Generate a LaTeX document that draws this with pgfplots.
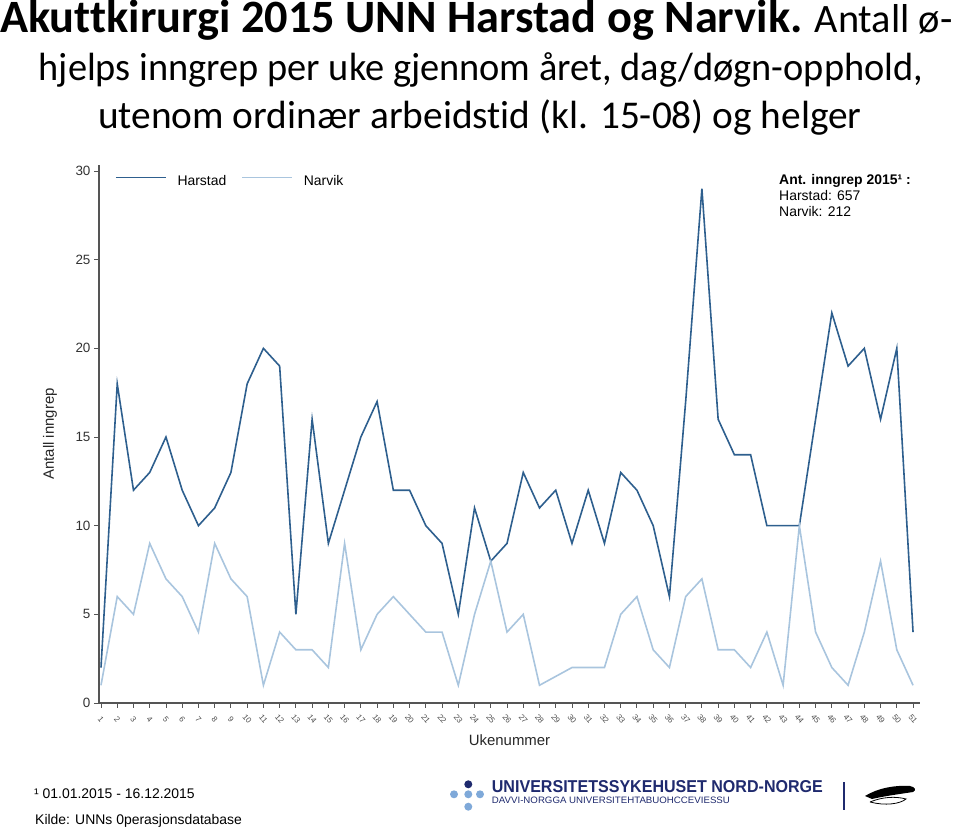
\documentclass[border=0pt]{standalone}
\usepackage{pgfplots}
\pgfplotsset{compat=1.18}
\usepackage{pgfplotstable}
\usepackage{fontspec}
\setmainfont{Liberation Sans}
\newfontfamily\titlefont[Ligatures=NoCommon]{Carlito}
\definecolor{harstad}{HTML}{2E5F8E}
\definecolor{narvik}{HTML}{A9C5DE}
\definecolor{axisgray}{HTML}{555555}
\definecolor{unnnavy}{HTML}{1F2A6E}
\definecolor{unnlight}{HTML}{7FA9D9}

\pgfplotstableread{
week harstad narvik
1 2 1
2 18 6
3 12 5
4 13 9
5 15 7
6 12 6
7 10 4
8 11 9
9 13 7
10 18 6
11 20 1
12 19 4
13 5 3
14 16 3
15 9 2
16 12 9
17 15 3
18 17 5
19 12 6
20 12 5
21 10 4
22 9 4
23 5 1
24 11 5
25 8 8
26 9 4
27 13 5
28 11 1
29 12 1.5
30 9 2
31 12 2
32 9 2
33 13 5
34 12 6
35 10 3
36 6 2
37 17 6
38 29 7
39 16 3
40 14 3
41 14 2
42 10 4
43 10 1
44 10 10
45 16 4
46 22 2
47 19 1
48 20 4
49 16 8
50 20 3
51 4 1
}\datatable

\begin{document}
\begin{tikzpicture}[x=1bp,y=1bp]
\path[use as bounding box] (0,0) rectangle (960,832);
% title
\node[anchor=base west, inner sep=0] at (0,799)
  {\titlefont\fontsize{46.5}{50}\selectfont\bfseries Akuttkirurgi 2015 UNN Harstad og Narvik.\mdseries\fontsize{40.5}{45}\selectfont{} Antall ø-};
\node[anchor=base, inner sep=0] at (481,751)
  {\scalebox{0.975}[1]{\titlefont\fontsize{39.5}{45}\selectfont hjelps inngrep per uke gjennom året, dag/døgn-opphold,}};
\node[anchor=base, inner sep=0] at (480,703)
  {\titlefont\fontsize{39.5}{45}\selectfont utenom ordinær arbeidstid (kl. 15-08) og helger};

\begin{axis}[
  at={(99bp,129bp)}, anchor=south west,
  scale only axis, width=821bp, height=538bp,
  xmin=0.877, xmax=51.43, ymin=0, ymax=30.34,
  axis lines*=left,
  axis line style={axisgray, line width=1.3bp},
  xtick={1,...,51}, ytick={0,5,...,30},
  tick align=outside, major tick length=5bp,
  tick style={axisgray, line width=0.9bp},
  /pgf/number format/assume math mode=true,
  yticklabel style={font=\fontsize{13.5}{15}\selectfont, text=black!80},
  xticklabel style={font=\fontsize{8}{9}\selectfont, text=black!70, anchor=center, yshift=-11bp, rotate=-50},
  ylabel={Antall inngrep},
  ylabel style={font=\fontsize{15}{17}\selectfont, text=black!85, at={(axis description cs:-0.0597,0.5)}, anchor=center},
  xlabel={Ukenummer},
  xlabel style={font=\fontsize{15}{17}\selectfont, text=black!85, at={(axis description cs:0.5,0)}, anchor=base, yshift=-43bp},
  legend columns=2,
  legend image code/.code={\draw[#1, line width=1.5bp] (0bp,3.5bp) -- (50bp,3.5bp);},
  legend style={draw=none, fill=none, inner sep=0pt, outer sep=0pt,
    font=\fontsize{14}{16}\selectfont,
    at={(axis description cs:0.0195,0.981)}, anchor=north west,
    nodes={inner sep=0pt},
    /tikz/every odd column/.append style={column sep=11bp},
    /tikz/every even column/.append style={column sep=15bp}},
]
\addplot[harstad, line width=1.6bp] table[x=week, y=harstad] {\datatable};
\addlegendentry{Harstad}
\addplot[narvik, line width=1.6bp] table[x=week, y=narvik] {\datatable};
\addlegendentry{Narvik}
\end{axis}

% annotation
\node[anchor=base west, inner sep=0, font=\fontsize{14}{16}\selectfont\bfseries] at (779,647) {Ant. inngrep 2015¹ :};
\node[anchor=base west, inner sep=0, font=\fontsize{14}{16}\selectfont] at (779,631) {Harstad: 657};
\node[anchor=base west, inner sep=0, font=\fontsize{14}{16}\selectfont] at (779,615) {Narvik: 212};

% footer
\node[anchor=base west, inner sep=0, font=\fontsize{14}{16}\selectfont] at (34,33) {¹ 01.01.2015 - 16.12.2015};
\node[anchor=base west, inner sep=0, font=\fontsize{14}{16}\selectfont] at (35,7) {Kilde: UNNs 0perasjonsdatabase};

% logo
\fill[unnnavy] (468.3,47.7) circle (4bp);
\fill[unnlight] (454,37.7) circle (4bp);
\fill[unnlight] (468.3,37.7) circle (4bp);
\fill[unnlight] (480,37.7) circle (4bp);
\fill[unnlight] (468.3,25.3) circle (4bp);
\node[anchor=south west, inner sep=0, text=unnnavy] at (491.7,39.3)
  {\resizebox{331bp}{12bp}{\bfseries UNIVERSITETSSYKEHUSET NORD-NORGE}};
\node[anchor=south west, inner sep=0, text=unnnavy] at (491.7,28.7)
  {\resizebox{238bp}{6.5bp}{DAVVI-NORGGA UNIVERSITEHTABUOHCCEVIESSU}};
\draw[unnnavy, line width=1.2bp] (844,22) -- (844,50);
\fill[black] (865,36) .. controls (878,44) and (895,47) .. (910,46)
  .. controls (915,45) and (917,42) .. (913,40)
  .. controls (900,38) and (885,36) .. (872,33) -- cycle;
\draw[black, line width=0.8bp, fill=white] (870,30) .. controls (885,26) and (900,28) .. (906,33)
  .. controls (895,36) and (882,35) .. (870,30);
\end{tikzpicture}
\end{document}
